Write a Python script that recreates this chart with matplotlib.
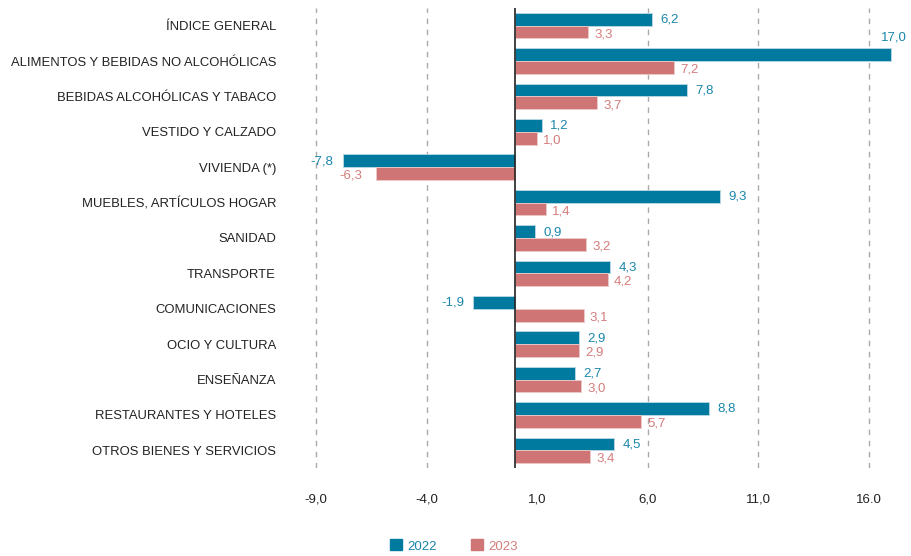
import matplotlib
matplotlib.use("Agg")
import matplotlib.pyplot as plt
import numpy as np
from matplotlib.patches import Patch

plt.rcParams['font.family'] = ['Liberation Sans', 'DejaVu Sans']

categories = ["ÍNDICE GENERAL", "ALIMENTOS Y BEBIDAS NO ALCOHÓLICAS",
              "BEBIDAS ALCOHÓLICAS Y TABACO", "VESTIDO Y CALZADO",
              "VIVIENDA (*)", "MUEBLES, ARTÍCULOS HOGAR", "SANIDAD",
              "TRANSPORTE", "COMUNICACIONES", "OCIO Y CULTURA", "ENSEÑANZA",
              "RESTAURANTES Y HOTELES", "OTROS BIENES Y SERVICIOS"]
v2022 = [6.2, 17.0, 7.8, 1.2, -7.8, 9.3, 0.9, 4.3, -1.9, 2.9, 2.7, 8.8, 4.5]
v2023 = [3.3, 7.2, 3.7, 1.0, -6.3, 1.4, 3.2, 4.2, 3.1, 2.9, 3.0, 5.7, 3.4]
xticks = [-9, -4, 1, 6, 11, 16]
xticklabels = ["-9,0", "-4,0", "1,0", "6,0", "11,0", "16.0"]

c22 = "#007a9f"
c23 = "#d07575"
t22 = "#1a86aa"
t23 = "#d47c7c"

W, H = 912, 556
fig = plt.figure(figsize=(W / 100, H / 100), dpi=100)
left, right, top, bottom = 283, 905, 8, 468
ax = fig.add_axes([left / W, 1 - bottom / H, (right - left) / W, (bottom - top) / H])

y = np.arange(len(categories))
h = 0.36
ax.barh(y - h / 2, v2022, height=h, color=c22, edgecolor="#bcd9e4", linewidth=0.6, zorder=3)
ax.barh(y + h / 2, v2023, height=h, color=c23, edgecolor="#eccaca", linewidth=0.6, zorder=3)

ax.set_xlim(-10.5, 17.65)
ax.set_ylim(len(categories) - 0.5, -0.5)

for s in ax.spines.values():
    s.set_visible(False)

for t in xticks:
    if t != 1:
        ax.axvline(t, color="#aaaaaa", linestyle=(0, (4, 4)), linewidth=1.0, zorder=1)
ax.axvline(0, color="#222222", linewidth=1.2, zorder=4)

ax.set_xticks(xticks)
ax.set_xticklabels(xticklabels, fontsize=9.5, color="#222222")
ax.set_yticks(y)
ax.set_yticklabels(categories, fontsize=9.4, color="#222222")
ax.tick_params(axis="x", length=0, pad=18.5)
ax.tick_params(axis="y", length=0, pad=5)

def fmt(v):
    return f"{v:.1f}".replace(".", ",")

for i, (a, b) in enumerate(zip(v2022, v2023)):
    if a > 16:
        ax.annotate(fmt(a), (a, i - h / 2), xytext=(2, 12.5), textcoords="offset points",
                    ha="center", va="center", color=t22, fontsize=9.5)
    else:
        off = 6 if a >= 0 else -6.5
        ax.annotate(fmt(a), (a, i - h / 2), xytext=(off, -0.3), textcoords="offset points",
                    ha="left" if a >= 0 else "right", va="center", color=t22, fontsize=9.5)
    off = 4.5 if b >= 0 else -9.5
    ax.annotate(fmt(b), (b, i + h / 2), xytext=(off, -1.6), textcoords="offset points",
                ha="left" if b >= 0 else "right", va="center", color=t23, fontsize=9.5)

handles = [Patch(facecolor=c22, edgecolor=c22), Patch(facecolor=c23, edgecolor=c23)]
leg = fig.legend(handles, ["2022", "2023"], loc="center", bbox_to_anchor=(454 / W, 1 - 546 / H),
                 ncol=2, frameon=False, fontsize=9.5, handlelength=0.9, handleheight=0.9,
                 handletextpad=0.4, columnspacing=2.6)
for txt, col in zip(leg.get_texts(), [t22, t23]):
    txt.set_color(col)

fig.savefig("out.png", dpi=100)
